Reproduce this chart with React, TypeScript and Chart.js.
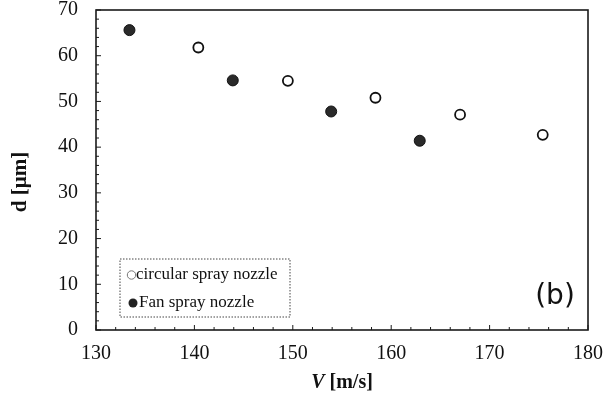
import React, { useEffect, useRef } from "react";
import { Chart, registerables } from "chart.js";

Chart.register(...registerables);

const circularX = [140.4, 149.5, 158.4, 167.0, 175.4];
const circularY = [61.8, 54.5, 50.8, 47.1, 42.7];
const fanX = [133.4, 143.9, 153.9, 162.9];
const fanY = [65.6, 54.6, 47.8, 41.4];
const seriesNames = ["circular spray nozzle", "Fan spray nozzle"];
const xMin = 130, xMax = 180, xStep = 10, xMinor = 2;
const yMin = 0, yMax = 70, yStep = 10, yMinor = 2;

const SERIF = "'Liberation Serif', 'DejaVu Serif', serif";

const framePlugin = {
  id: "frame",
  afterDraw(chart: any) {
    const ctx = chart.ctx as CanvasRenderingContext2D;
    const { left, right, top, bottom } = chart.chartArea;
    const xs = chart.scales.x;
    const ys = chart.scales.y;
    ctx.save();
    ctx.strokeStyle = "#1a1a1a";
    ctx.lineWidth = 1.6;
    ctx.strokeRect(left, top, right - left, bottom - top);
    ctx.lineWidth = 1;
    for (let v = xMin; v <= xMax + 1e-9; v += xMinor) {
      const px = xs.getPixelForValue(v);
      const major = Math.abs(v / xStep - Math.round(v / xStep)) < 1e-6;
      const len = major ? 5 : 3;
      ctx.beginPath();
      ctx.moveTo(px, bottom);
      ctx.lineTo(px, bottom - len);
      ctx.stroke();
    }
    for (let v = yMin; v <= yMax + 1e-9; v += yMinor) {
      const py = ys.getPixelForValue(v);
      const major = Math.abs(v / yStep - Math.round(v / yStep)) < 1e-6;
      const len = major ? 5 : 3;
      ctx.beginPath();
      ctx.moveTo(left, py);
      ctx.lineTo(left + len, py);
      ctx.stroke();
    }
    // legend box
    const bx = 120, by = 259, bw = 170, bh = 58;
    ctx.setLineDash([1.5, 1.5]);
    ctx.strokeStyle = "#444";
    ctx.strokeRect(bx, by, bw, bh);
    ctx.setLineDash([]);
    ctx.beginPath();
    ctx.arc(bx + 11.5, by + 16, 4.2, 0, Math.PI * 2);
    ctx.fillStyle = "#fff";
    ctx.fill();
    ctx.strokeStyle = "#777";
    ctx.lineWidth = 1;
    ctx.stroke();
    ctx.beginPath();
    ctx.arc(bx + 13, by + 44, 4.5, 0, Math.PI * 2);
    ctx.fillStyle = "#222";
    ctx.fill();
    ctx.fillStyle = "#111";
    ctx.font = `17px ${SERIF}`;
    ctx.textBaseline = "middle";
    ctx.textAlign = "left";
    ctx.fillText(seriesNames[0], bx + 16, by + 16);
    ctx.fillText(seriesNames[1], bx + 19, by + 44);
    // (b)
    ctx.font = "28px 'DejaVu Sans', sans-serif";
    ctx.textAlign = "center";
    ctx.fillText("(b)", 555, 297);
    // x title
    ctx.font = `italic bold 20px ${SERIF}`;
    const p1 = "V";
    const w1 = ctx.measureText(p1 + " ").width;
    ctx.font = `bold 20px ${SERIF}`;
    const p2 = "[m/s]";
    const w2 = ctx.measureText(p2).width;
    const cx = (left + right) / 2;
    const sx = cx - (w1 + w2) / 2;
    ctx.textAlign = "left";
    ctx.font = `italic bold 20px ${SERIF}`;
    ctx.fillText(p1, sx, 383);
    ctx.font = `bold 20px ${SERIF}`;
    ctx.fillText(p2, sx + w1, 383);
    // y title
    ctx.translate(21, 182);
    ctx.rotate(-Math.PI / 2);
    ctx.textAlign = "center";
    ctx.font = `bold 21px ${SERIF}`;
    ctx.fillText("d [μm]", 0, 0);
    ctx.restore();
  },
};

export default function App() {
  const ref = useRef<HTMLCanvasElement | null>(null);
  useEffect(() => {
    if (!ref.current) return;
    const chart = new Chart(ref.current, {
      type: "scatter",
      data: {
        datasets: [
          {
            label: seriesNames[0],
            data: circularX.map((x, i) => ({ x, y: circularY[i] })),
            pointRadius: 5,
            pointBorderWidth: 1.8,
            pointBackgroundColor: "#ffffff",
            pointBorderColor: "#111111",
          },
          {
            label: seriesNames[1],
            data: fanX.map((x, i) => ({ x, y: fanY[i] })),
            pointRadius: 5.5,
            pointBorderWidth: 1,
            pointBackgroundColor: "#2a2a2a",
            pointBorderColor: "#111111",
          },
        ],
      },
      options: {
        animation: false,
        responsive: false,
        maintainAspectRatio: false,
        layout: { padding: { left: 0, top: 10, right: 25, bottom: 0 } },
        plugins: { legend: { display: false }, tooltip: { enabled: false } },
        scales: {
          x: {
            type: "linear",
            min: xMin,
            max: xMax,
            grid: { display: false, drawTicks: false },
            border: { display: false },
            ticks: {
              stepSize: xStep,
              padding: 12,
              color: "#111",
              font: { family: SERIF, size: 20 },
              maxRotation: 0,
            },
            afterFit: (s: any) => {
              s.height = 69;
              s.paddingLeft = 0;
              s.paddingRight = 0;
            },
          },
          y: {
            type: "linear",
            min: yMin,
            max: yMax,
            grid: { display: false, drawTicks: false },
            border: { display: false },
            ticks: {
              stepSize: yStep,
              padding: 18,
              color: "#111",
              font: { family: SERIF, size: 20 },
            },
            afterFit: (s: any) => {
              s.width = 96;
              s.paddingTop = 0;
              s.paddingBottom = 0;
            },
          },
        },
      },
      plugins: [framePlugin],
    });
    return () => chart.destroy();
  }, []);
  return (
    <div style={{ position: "fixed", left: 0, top: 0, width: 613, height: 399, background: "#fff" }}>
      <canvas ref={ref} width={613} height={399} style={{ width: 613, height: 399 }} />
    </div>
  );
}
